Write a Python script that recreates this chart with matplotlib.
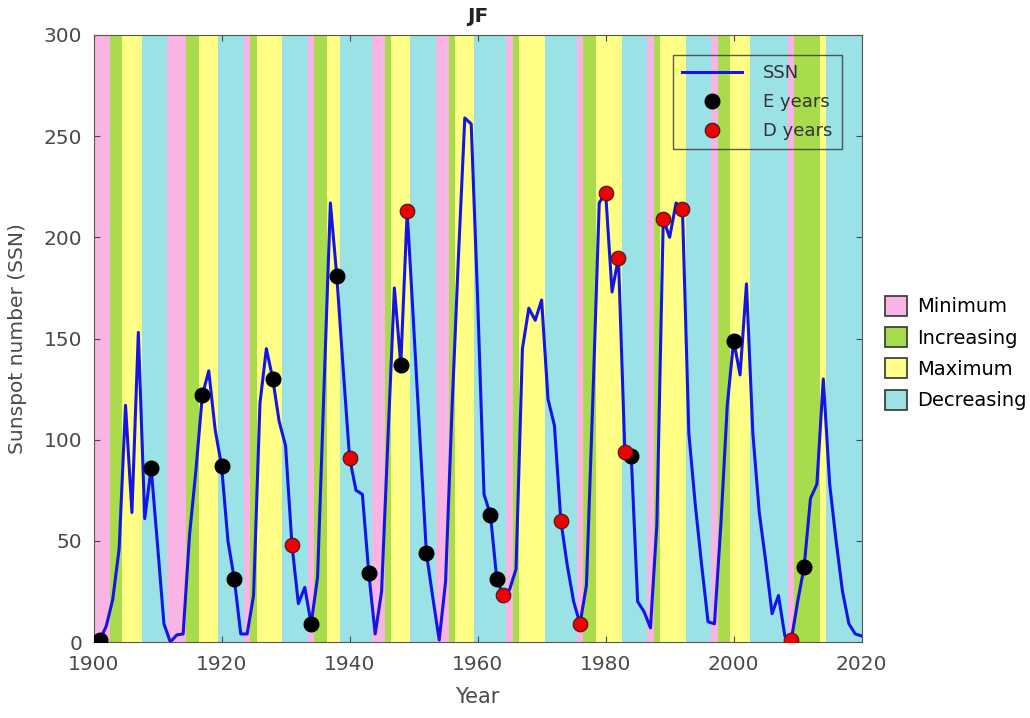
import matplotlib
matplotlib.use("Agg")
import matplotlib.pyplot as plt
from matplotlib.patches import Patch

# ---- data ----
years = list(range(1901, 2021))
ssn = [1, 8, 21, 46, 117, 64, 153, 61, 86, 48,
       9, 0, 3.5, 4, 53, 85, 122, 134, 105, 87,
       50, 31, 4, 4, 23, 118, 145, 130, 109, 97,
       48, 19, 27, 9, 32, 125, 217, 181, 135, 91,
       75, 73, 34, 4, 25, 101, 175, 137, 213, 157,
       100, 44, 22, 1, 30, 115, 190, 259, 256, 170,
       73, 63, 31, 23, 26, 36, 145, 165, 159, 169,
       120, 107, 60, 38, 20, 9, 28, 120, 217, 222,
       173, 190, 94, 92, 20, 15, 7, 58, 209, 200,
       217, 214, 103, 68, 38, 10, 9, 58, 117, 149,
       132, 177, 103, 64, 40, 14, 23, 3, 1, 20,
       37, 71, 78, 130, 78, 50, 25, 9, 4, 3]

e_years = [1901, 1909, 1917, 1920, 1922, 1928, 1934, 1938, 1943, 1948,
           1952, 1962, 1963, 1984, 2000, 2011]
d_years = [1931, 1940, 1949, 1964, 1973, 1976, 1980, 1982, 1983, 1989,
           1992, 2009]

# solar-cycle phase runs: first year of each run and its phase
phase_start = [1900, 1903, 1905, 1908, 1912, 1915, 1917, 1920, 1924, 1925,
               1926, 1930, 1934, 1935, 1937, 1939, 1944, 1946, 1947, 1950,
               1954, 1956, 1957, 1960, 1965, 1966, 1967, 1971, 1976, 1977,
               1979, 1983, 1987, 1988, 1989, 1993, 1997, 1998, 2000, 2003,
               2009, 2010, 2014, 2015]
phase_name = ["Minimum", "Increasing", "Maximum", "Decreasing"] * 11
phase_end = 2020

phase_labels = ["Minimum", "Increasing", "Maximum", "Decreasing"]
phase_colors = {"Minimum": "#F8B4E3", "Increasing": "#A8DC4C",
                "Maximum": "#FFFF86", "Decreasing": "#9BE2E6"}

# ---- figure ----
fig = plt.figure(figsize=(10.30, 7.18), dpi=100)
ax = fig.add_axes([0.0908, 0.1058, 0.7458, 0.8455])

bounds = phase_start + [phase_end + 1]
for i, name in enumerate(phase_name):
    ax.axvspan(bounds[i] - 0.5, bounds[i + 1] - 0.5, color=phase_colors[name],
               lw=0, zorder=0)

lookup = dict(zip(years, ssn))
ax.plot(years, ssn, color="#1414E6", lw=2.2, zorder=3, label="SSN")
ax.plot(e_years, [lookup[y] for y in e_years], "o", ls="none", ms=10.5,
        mfc="black", mec="black", zorder=4, label="E years")
ax.plot(d_years, [lookup[y] for y in d_years], "o", ls="none", ms=10.5,
        mfc="#EE0000", mec="#3a1a1a", mew=0.8, zorder=4, label="D years")

ax.set_xlim(1900, 2020)
ax.set_ylim(0, 300)
ax.set_xticks(range(1900, 2021, 20))
ax.set_yticks(range(0, 301, 50))
grey = "#4a4a4a"
ax.tick_params(axis="both", labelsize=14.5, colors=grey, direction="in",
               length=4, top=True, right=True)
ax.tick_params(axis="x", pad=9)
ax.tick_params(axis="y", pad=8)
for s in ax.spines.values():
    s.set_color("#555555")
    s.set_linewidth(0.8)
ax.set_xlabel("Year", fontsize=15, color=grey, labelpad=10)
ax.set_ylabel("Sunspot number (SSN)", fontsize=14.5, color=grey, labelpad=12)
ax.set_title("JF", fontsize=14.5, fontweight="bold", color="#222222", pad=9)

leg = ax.legend(loc="upper right", bbox_to_anchor=(0.974, 0.967),
                borderaxespad=0, fontsize=13, frameon=True, fancybox=False,
                facecolor="none", edgecolor="#333333", handlelength=3.3,
                labelspacing=0.62, borderpad=0.5, handletextpad=1.2)
for t in leg.get_texts():
    t.set_color("#333333")

handles = [Patch(facecolor=phase_colors[n], edgecolor="#333333", lw=1.2)
           for n in phase_labels]
fig.legend(handles, phase_labels, loc="center left",
           bbox_to_anchor=(0.859, 1 - 353 / 718), frameon=False,
           borderpad=0, borderaxespad=0,
           fontsize=14, handlelength=1.15, handleheight=1.2,
           handletextpad=0.5, labelspacing=0.55)

fig.savefig("out.png", dpi=100)
